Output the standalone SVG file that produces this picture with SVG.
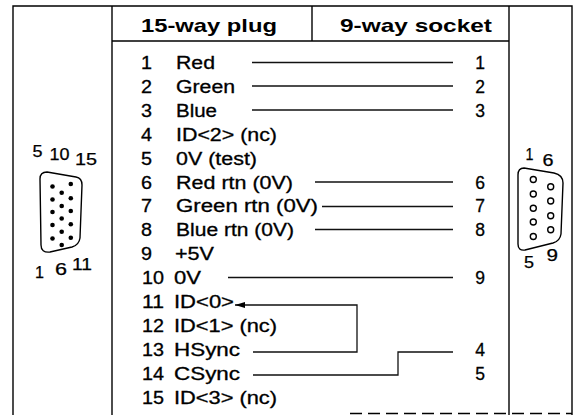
<svg xmlns="http://www.w3.org/2000/svg" width="579" height="415" viewBox="0 0 579 415">
<defs>
<style>
.ln{stroke:#000;stroke-width:1.4;fill:none}
.cn{stroke:#111;stroke-width:1.3;fill:none}
.t{font-family:"Liberation Sans",Arial,sans-serif;font-size:17.5px;fill:#000;stroke:#000;stroke-width:0.3}
.h{font-family:"Liberation Sans",Arial,sans-serif;font-size:18.5px;font-weight:bold;fill:#000}
.s{font-family:"Liberation Sans",Arial,sans-serif;font-size:16px;fill:#000;stroke:#000;stroke-width:0.25}
.rn{text-anchor:middle}
.dot{fill:#000}
.ring{fill:none;stroke:#000;stroke-width:1.4}
</style>
<marker id="arr" viewBox="0 0 10 6" refX="10" refY="3" markerWidth="10" markerHeight="6" markerUnits="userSpaceOnUse" orient="auto">
<path d="M0,0 L10,3 L0,6 z" fill="#000"/>
</marker>
</defs>
<rect width="579" height="415" fill="#fff"/>
<g id="frame" class="ln">
<path d="M13,415 V6 H572 V415"/>
<path d="M112,6 V415"/>
<path d="M509,6 V415"/>
<path d="M112,41 H509"/>
<path d="M312,6 V41"/>
<path d="M350,413.5 H572" stroke-dasharray="12 6"/>
</g>
<g id="header">
<text class="h" x="141" y="31.5" textLength="136" lengthAdjust="spacingAndGlyphs">15-way plug</text>
<text class="h" x="340" y="31.5" textLength="152" lengthAdjust="spacingAndGlyphs">9-way socket</text>
</g>
<g id="plug-pins">
<g id="pin1"><text class="t" x="141" y="69" textLength="11" lengthAdjust="spacingAndGlyphs">1</text><text class="t" x="176" y="69" textLength="39" lengthAdjust="spacingAndGlyphs">Red</text></g>
<g id="pin2"><text class="t" x="141" y="92.9" textLength="11" lengthAdjust="spacingAndGlyphs">2</text><text class="t" x="176" y="92.9" textLength="59" lengthAdjust="spacingAndGlyphs">Green</text></g>
<g id="pin3"><text class="t" x="141" y="116.8" textLength="11" lengthAdjust="spacingAndGlyphs">3</text><text class="t" x="176" y="116.8" textLength="41" lengthAdjust="spacingAndGlyphs">Blue</text></g>
<g id="pin4"><text class="t" x="141" y="140.7" textLength="11" lengthAdjust="spacingAndGlyphs">4</text><text class="t" x="176" y="140.7" textLength="101" lengthAdjust="spacingAndGlyphs">ID&lt;2&gt; (nc)</text></g>
<g id="pin5"><text class="t" x="141" y="164.6" textLength="11" lengthAdjust="spacingAndGlyphs">5</text><text class="t" x="176" y="164.6" textLength="81" lengthAdjust="spacingAndGlyphs">0V (test)</text></g>
<g id="pin6"><text class="t" x="141" y="188.5" textLength="11" lengthAdjust="spacingAndGlyphs">6</text><text class="t" x="176" y="188.5" textLength="117" lengthAdjust="spacingAndGlyphs">Red rtn (0V)</text></g>
<g id="pin7"><text class="t" x="141" y="212.4" textLength="11" lengthAdjust="spacingAndGlyphs">7</text><text class="t" x="176" y="212.4" textLength="142" lengthAdjust="spacingAndGlyphs">Green rtn (0V)</text></g>
<g id="pin8"><text class="t" x="141" y="236.3" textLength="11" lengthAdjust="spacingAndGlyphs">8</text><text class="t" x="176" y="236.3" textLength="118" lengthAdjust="spacingAndGlyphs">Blue rtn (0V)</text></g>
<g id="pin9"><text class="t" x="141" y="260.2" textLength="11" lengthAdjust="spacingAndGlyphs">9</text><text class="t" x="175" y="260.2" textLength="39" lengthAdjust="spacingAndGlyphs">+5V</text></g>
<g id="pin10"><text class="t" x="142" y="284.1" textLength="22" lengthAdjust="spacingAndGlyphs">10</text><text class="t" x="174" y="284.1" textLength="27" lengthAdjust="spacingAndGlyphs">0V</text></g>
<g id="pin11"><text class="t" x="142" y="308" textLength="22" lengthAdjust="spacingAndGlyphs">11</text><text class="t" x="174" y="308" textLength="60" lengthAdjust="spacingAndGlyphs">ID&lt;0&gt;</text></g>
<g id="pin12"><text class="t" x="142" y="331.9" textLength="22" lengthAdjust="spacingAndGlyphs">12</text><text class="t" x="174" y="331.9" textLength="103" lengthAdjust="spacingAndGlyphs">ID&lt;1&gt; (nc)</text></g>
<g id="pin13"><text class="t" x="142" y="355.8" textLength="22" lengthAdjust="spacingAndGlyphs">13</text><text class="t" x="174" y="355.8" textLength="66" lengthAdjust="spacingAndGlyphs">HSync</text></g>
<g id="pin14"><text class="t" x="142" y="379.7" textLength="22" lengthAdjust="spacingAndGlyphs">14</text><text class="t" x="174" y="379.7" textLength="66" lengthAdjust="spacingAndGlyphs">CSync</text></g>
<g id="pin15"><text class="t" x="142" y="403.6" textLength="22" lengthAdjust="spacingAndGlyphs">15</text><text class="t" x="174" y="403.6" textLength="103" lengthAdjust="spacingAndGlyphs">ID&lt;3&gt; (nc)</text></g>
</g>
<g id="socket-pins">
<g id="s1"><text class="t rn" x="480" y="69">1</text></g>
<g id="s2"><text class="t rn" x="480" y="92.9">2</text></g>
<g id="s3"><text class="t rn" x="480" y="116.8">3</text></g>
<g id="s6"><text class="t rn" x="480" y="188.5">6</text></g>
<g id="s7"><text class="t rn" x="480" y="212.4">7</text></g>
<g id="s8"><text class="t rn" x="480" y="236.3">8</text></g>
<g id="s9"><text class="t rn" x="480" y="284.1">9</text></g>
<g id="s4"><text class="t rn" x="480" y="355.8">4</text></g>
<g id="s5"><text class="t rn" x="480" y="379.7">5</text></g>
</g>
<g id="connectors" class="cn">
<path d="M252,62.5 H453"/>
<path d="M252,86 H453"/>
<path d="M252,110 H453"/>
<path d="M315,182 H453"/>
<path d="M322,206.5 H453"/>
<path d="M315,229.5 H453"/>
<path d="M228,277.5 H453"/>
<path d="M253,352 H357 V305 H235" marker-end="url(#arr)"/>
<path d="M253,375 H398 V352 H453"/>
</g>
<g id="plug-drawing">
<path class="ln" d="M47,172 L76,177 Q82,178 82,185 L80,238 Q79,245 72,247 L50,252 Q41,253 41,245 L40,179 Q40,172 47,172 Z"/>
<circle class="dot" cx="52.5" cy="186.5" r="2.3"/>
<circle class="dot" cx="52.5" cy="199.5" r="2.3"/>
<circle class="dot" cx="52.5" cy="212" r="2.3"/>
<circle class="dot" cx="52.5" cy="225" r="2.3"/>
<circle class="dot" cx="52.5" cy="238.5" r="2.3"/>
<circle class="dot" cx="61.7" cy="192.7" r="2.3"/>
<circle class="dot" cx="61.7" cy="206" r="2.3"/>
<circle class="dot" cx="61.7" cy="218.5" r="2.3"/>
<circle class="dot" cx="61.7" cy="231.7" r="2.3"/>
<circle class="dot" cx="61.7" cy="245" r="2.3"/>
<circle class="dot" cx="70.8" cy="184" r="2.3"/>
<circle class="dot" cx="70.8" cy="198.3" r="2.3"/>
<circle class="dot" cx="70.8" cy="211" r="2.3"/>
<circle class="dot" cx="70.8" cy="224.3" r="2.3"/>
<circle class="dot" cx="70.8" cy="237.7" r="2.3"/>
<text class="s" x="32.5" y="157" textLength="10" lengthAdjust="spacingAndGlyphs">5</text>
<text class="s" x="49.5" y="160" textLength="20" lengthAdjust="spacingAndGlyphs">10</text>
<text class="s" x="75" y="165" textLength="22" lengthAdjust="spacingAndGlyphs">15</text>
<text class="s" x="35" y="278" textLength="9" lengthAdjust="spacingAndGlyphs">1</text>
<text class="s" x="55" y="275" textLength="12" lengthAdjust="spacingAndGlyphs">6</text>
<text class="s" x="72" y="270" textLength="20" lengthAdjust="spacingAndGlyphs">11</text>
</g>
<g id="socket-drawing">
<path class="ln" d="M524,168 L554,173 Q563,175 563,183 L561,234 Q560,241 553,243 L525,250 Q518,251 518,244 L518,175 Q518,168 524,168 Z"/>
<circle class="ring" cx="533.3" cy="179.5" r="3"/>
<circle class="ring" cx="533.3" cy="194" r="3"/>
<circle class="ring" cx="533.3" cy="208.3" r="3"/>
<circle class="ring" cx="533.3" cy="222" r="3"/>
<circle class="ring" cx="533.3" cy="236.5" r="3"/>
<circle class="ring" cx="550.7" cy="186.7" r="3"/>
<circle class="ring" cx="550.7" cy="201" r="3"/>
<circle class="ring" cx="550.7" cy="215.7" r="3"/>
<circle class="ring" cx="550.7" cy="229.7" r="3"/>
<text class="s" x="525.5" y="160" textLength="8" lengthAdjust="spacingAndGlyphs">1</text>
<text class="s" x="542.5" y="165.5" textLength="11" lengthAdjust="spacingAndGlyphs">6</text>
<text class="s" x="524" y="268" textLength="10" lengthAdjust="spacingAndGlyphs">5</text>
<text class="s" x="546.5" y="261" textLength="11.5" lengthAdjust="spacingAndGlyphs">9</text>
</g>
</svg>
